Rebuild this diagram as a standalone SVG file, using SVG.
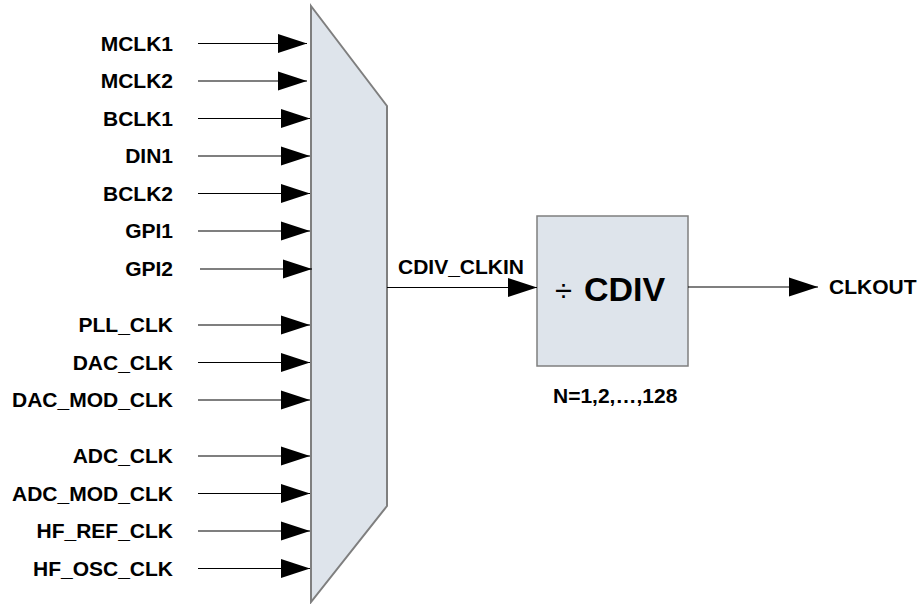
<svg xmlns="http://www.w3.org/2000/svg" width="918" height="604" viewBox="0 0 918 604">
<style>
.lbl{font-family:"Liberation Sans",Arial,sans-serif;font-weight:bold;font-size:21px;fill:#000}
.in{text-anchor:end}
.wire{stroke:#000;stroke-width:1.2;fill:none;marker-end:url(#ah)}
.blk{fill:#DEE4EB;stroke:#7F7F7F}
</style>
<defs>
<marker id="ah" markerUnits="userSpaceOnUse" markerWidth="29" markerHeight="19" refX="29" refY="9.5" orient="auto" overflow="visible">
<path d="M0,0 L29,9.5 L0,19 Z" fill="#000"/>
</marker>
</defs>
<rect width="918" height="604" fill="#fff"/>
<g id="mux">
<polygon class="blk" stroke-width="2" points="311,6 387,106 387,506 311,602"/>
</g>
<g id="cdiv">
<rect class="blk" stroke-width="1.5" x="537" y="216" width="151" height="150"/>
<text x="555" y="301" font-family="Liberation Sans,Arial,sans-serif" font-size="31px" fill="#000">÷</text>
<text x="584" y="301" font-family="Liberation Sans,Arial,sans-serif" font-weight="bold" font-size="34px" fill="#000">CDIV</text>
<text class="lbl" x="553" y="403">N=1,2,…,128</text>
</g>
<g id="labels">
<text class="lbl in" x="173" y="51">MCLK1</text>
<text class="lbl in" x="173" y="88">MCLK2</text>
<text class="lbl in" x="173" y="126">BCLK1</text>
<text class="lbl in" x="173" y="163">DIN1</text>
<text class="lbl in" x="173" y="201">BCLK2</text>
<text class="lbl in" x="173" y="238">GPI1</text>
<text class="lbl in" x="173" y="276">GPI2</text>
<text class="lbl in" x="173" y="332">PLL_CLK</text>
<text class="lbl in" x="173" y="370">DAC_CLK</text>
<text class="lbl in" x="173" y="407">DAC_MOD_CLK</text>
<text class="lbl in" x="173" y="463">ADC_CLK</text>
<text class="lbl in" x="173" y="501">ADC_MOD_CLK</text>
<text class="lbl in" x="173" y="538">HF_REF_CLK</text>
<text class="lbl in" x="173" y="576">HF_OSC_CLK</text>
<text class="lbl" x="398" y="274">CDIV_CLKIN</text>
<text class="lbl" x="829" y="294" font-size="20px">CLKOUT</text>
</g>
<g id="connectors">
<line class="wire" x1="198" y1="43.5" x2="307" y2="43.5"/>
<line class="wire" x1="198" y1="81" x2="307" y2="81"/>
<line class="wire" x1="198" y1="118.5" x2="310" y2="118.5"/>
<line class="wire" x1="198" y1="156" x2="310" y2="156"/>
<line class="wire" x1="198" y1="193.5" x2="310" y2="193.5"/>
<line class="wire" x1="198" y1="231" x2="310" y2="231"/>
<line class="wire" x1="200" y1="269" x2="312" y2="269"/>
<line class="wire" x1="198" y1="325" x2="310" y2="325"/>
<line class="wire" x1="198" y1="362.5" x2="310" y2="362.5"/>
<line class="wire" x1="198" y1="400" x2="310" y2="400"/>
<line class="wire" x1="198" y1="456" x2="310" y2="456"/>
<line class="wire" x1="198" y1="493.5" x2="310" y2="493.5"/>
<line class="wire" x1="198" y1="531" x2="310" y2="531"/>
<line class="wire" x1="198" y1="568.5" x2="310" y2="568.5"/>
<line class="wire" x1="387" y1="287.5" x2="537" y2="287.5"/>
<line class="wire" x1="688" y1="287" x2="818" y2="287"/>
</g>
</svg>
